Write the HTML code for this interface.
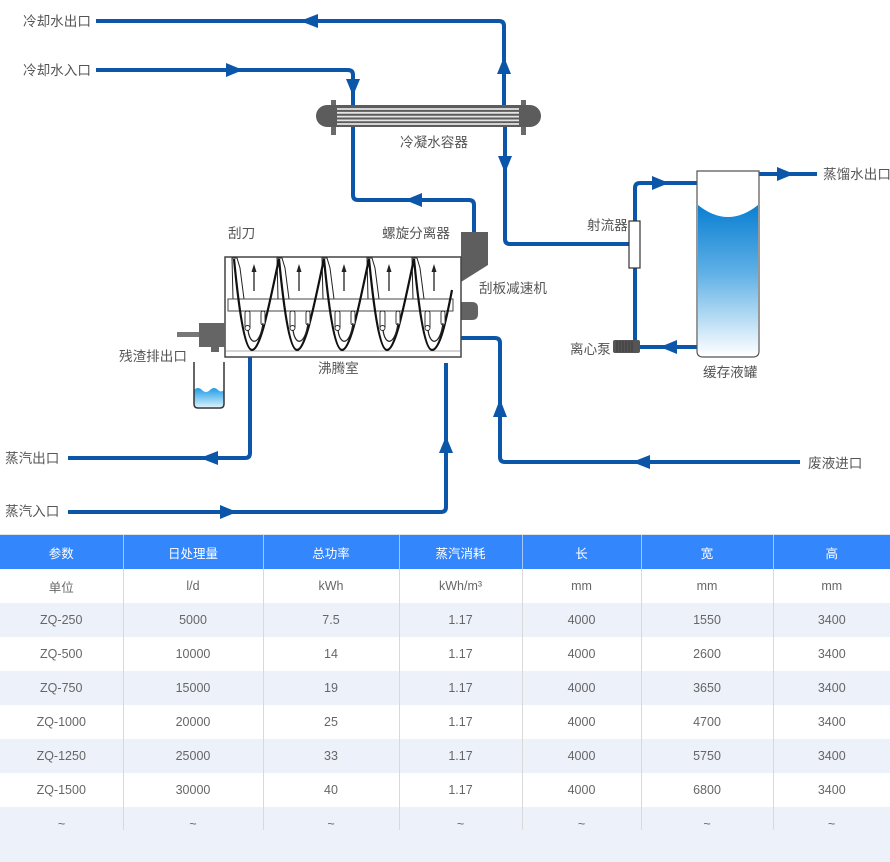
<!DOCTYPE html>
<html>
<head>
<meta charset="utf-8">
<style>
  html,body{margin:0;padding:0;background:#fff;}
  body{width:890px;height:862px;position:relative;overflow:hidden;
       font-family:"Liberation Sans","Noto Sans CJK SC",sans-serif;}
  svg{position:absolute;left:0;top:0;}
  .lbl{font-family:"Liberation Sans","Noto Sans CJK SC",sans-serif;font-size:13.6px;fill:#555;}
  table{position:absolute;left:0;top:535px;width:890px;border-collapse:collapse;table-layout:fixed;
        font-family:"Liberation Sans","Noto Sans CJK SC",sans-serif;font-size:12.5px;color:#666;}
  td,th{height:34px;padding:0;text-align:center;border-left:1px solid #d9d9d9;}
  td:first-child,th:first-child{border-left:none;}
  th{background:#3486fc;color:#fff;font-weight:normal;border-left:1px solid rgba(255,255,255,0.55);}
  tr.s td{background:#edf1f9;}
  .topline{position:absolute;left:0;top:534px;width:890px;height:1px;background:#e2e2e2;}
  .last{position:absolute;left:0;top:807px;width:890px;height:55px;background:#edf1f9;}
  .last div{position:absolute;top:0;height:23px;width:1px;background:#d9d9d9;}
  .last span{position:absolute;top:10px;font-size:12.5px;color:#666;text-align:center;}
</style>
</head>
<body>
<svg width="890" height="535" viewBox="0 0 890 535" xmlns="http://www.w3.org/2000/svg">
  <defs>
    <linearGradient id="tankg" x1="0" y1="0" x2="0" y2="1">
      <stop offset="0" stop-color="#0a7fd2"/>
      <stop offset="0.45" stop-color="#5fb0e6"/>
      <stop offset="1" stop-color="#ffffff"/>
    </linearGradient>
    <linearGradient id="beakg" x1="0" y1="0" x2="0" y2="1">
      <stop offset="0" stop-color="#1e9de6"/>
      <stop offset="1" stop-color="#d6effc"/>
    </linearGradient>
  </defs>

  <!-- pipes -->
  <g fill="none" stroke="#0b56a8" stroke-width="4" stroke-linejoin="round" stroke-linecap="butt">
    <path d="M96 21 H499 Q504 21 504 26 V107"/>
    <path d="M96 70 H348 Q353 70 353 75 V107"/>
    <path d="M353 127 V195 Q353 200 358 200 H469 Q474 200 474 205 V232"/>
    <path d="M505 127 V239 Q505 244 510 244 H629"/>
    <path d="M635 221 V188 Q635 183 640 183 H697"/>
    <path d="M635 268 V341"/>
    <path d="M640 347 H697"/>
    <path d="M759 174 H817"/>
    <path d="M461 338 H495 Q500 338 500 343 V457 Q500 462 505 462 H800"/>
    <path d="M250 357 V453 Q250 458 245 458 H68"/>
    <path d="M68 512 H441 Q446 512 446 507 V363"/>
  </g>
  <!-- arrowheads -->
  <g fill="#0b56a8">
    <polygon points="300,21 318,14 318,28"/>
    <polygon points="504,57 497,74 511,74"/>
    <polygon points="243,70 226,63 226,77"/>
    <polygon points="353,96 346,79 360,79"/>
    <polygon points="405,200 422,193 422,207"/>
    <polygon points="505,173 498,156 512,156"/>
    <polygon points="669,183 652,176 652,190"/>
    <polygon points="660,347 677,340 677,354"/>
    <polygon points="794,174 777,167 777,181"/>
    <polygon points="500,399 493,417 507,417"/>
    <polygon points="632,462 650,455 650,469"/>
    <polygon points="200,458 218,451 218,465"/>
    <polygon points="237,512 220,505 220,519"/>
    <polygon points="446,436 439,453 453,453"/>
  </g>

  <!-- heat exchanger -->
  <rect x="331" y="100" width="5" height="35" fill="#6a6a6a"/>
  <rect x="521" y="100" width="5" height="35" fill="#6a6a6a"/>
  <rect x="316" y="105" width="225" height="22" rx="11" ry="11" fill="#5c5c5c"/>
  <g stroke="#e4e4e4" stroke-width="1.8">
    <line x1="337" y1="109" x2="519" y2="109"/>
    <line x1="337" y1="112.8" x2="519" y2="112.8"/>
    <line x1="337" y1="116.6" x2="519" y2="116.6"/>
    <line x1="337" y1="120.4" x2="519" y2="120.4"/>
    <line x1="337" y1="124" x2="519" y2="124"/>
  </g>

  <!-- separator & motor -->
  <polygon points="461,232 488,232 488,265 461,282" fill="#5e5e5e"/>
  <path d="M461 302 H472 Q478 302 478 308 V314 Q478 320 472 320 H461 Z" fill="#636363"/>

  <!-- evaporator -->
  <rect x="225" y="257" width="236" height="100" fill="#fff" stroke="#444" stroke-width="1.5"/>
  <line x1="226" y1="351" x2="460" y2="351" stroke="#aaa" stroke-width="1"/>

  <!-- blades -->
  <g fill="#fff" stroke="#222" stroke-width="1">
    <polygon points="232,258 237,258 240,268 244,299 233,299"/>
    <polygon points="277,258 282,258 285,268 289,299 278,299"/>
    <polygon points="322,258 327,258 330,268 334,299 323,299"/>
    <polygon points="367,258 372,258 375,268 379,299 368,299"/>
    <polygon points="412,258 417,258 420,268 424,299 413,299"/>
  </g>
  <!-- shaft -->
  <rect x="228" y="299" width="225" height="12" fill="#fff" stroke="#444" stroke-width="1"/>
  <!-- wave -->
  <path d="M234 259 C238 300 244 350 252 350 C261 350 270 300 279 259
           C283 300 289 350 297 350 C306 350 315 300 324 259
           C328 300 334 350 342 350 C351 350 360 300 369 259
           C373 300 379 350 387 350 C396 350 405 300 414 259
           C418 300 424 350 432 350 C441 350 448 310 452 290"
        fill="none" stroke="#111" stroke-width="2.2"/>
  <!-- rods & inner loops -->
  <g fill="#fff" stroke="#222" stroke-width="0.9">
    <rect x="245" y="311" width="5" height="18" rx="2"/>
    <rect x="261" y="311" width="4" height="14" rx="2"/>
    <rect x="290" y="311" width="5" height="18" rx="2"/>
    <rect x="306" y="311" width="4" height="14" rx="2"/>
    <rect x="335" y="311" width="5" height="18" rx="2"/>
    <rect x="351" y="311" width="4" height="14" rx="2"/>
    <rect x="380" y="311" width="5" height="18" rx="2"/>
    <rect x="396" y="311" width="4" height="14" rx="2"/>
    <rect x="425" y="311" width="5" height="18" rx="2"/>
    <rect x="441" y="311" width="4" height="14" rx="2"/>
    <circle cx="247.5" cy="328" r="2.5"/>
    <circle cx="292.5" cy="328" r="2.5"/>
    <circle cx="337.5" cy="328" r="2.5"/>
    <circle cx="382.5" cy="328" r="2.5"/>
    <circle cx="427.5" cy="328" r="2.5"/>
  </g>
  <g fill="none" stroke="#222" stroke-width="1.2">
    <path d="M248 330 C250 346 260 346 263 323"/>
    <path d="M293 330 C295 346 305 346 308 323"/>
    <path d="M338 330 C340 346 350 346 353 323"/>
    <path d="M383 330 C385 346 395 346 398 323"/>
    <path d="M428 330 C430 346 440 346 443 323"/>
  </g>
  <!-- up arrows -->
  <g stroke="#222" stroke-width="1.3">
    <line x1="254" y1="291" x2="254" y2="270"/>
    <line x1="299" y1="291" x2="299" y2="270"/>
    <line x1="344" y1="291" x2="344" y2="270"/>
    <line x1="389" y1="291" x2="389" y2="270"/>
    <line x1="434" y1="291" x2="434" y2="270"/>
  </g>
  <g fill="#222">
    <polygon points="254,264 251.5,272 256.5,272"/>
    <polygon points="299,264 296.5,272 301.5,272"/>
    <polygon points="344,264 341.5,272 346.5,272"/>
    <polygon points="389,264 386.5,272 391.5,272"/>
    <polygon points="434,264 431.5,272 436.5,272"/>
  </g>

  <!-- residue outlet -->
  <rect x="177" y="332" width="24" height="5" fill="#777"/>
  <rect x="199" y="323" width="26" height="24" fill="#656565"/>
  <rect x="211" y="346" width="8" height="6" fill="#656565"/>
  <!-- beaker -->
  <path d="M194 390 Q198 386 202 390 Q206 394 210 390 Q214 386 218 390 Q221 393 224 390 V404 Q224 407 221 407 H197 Q194 407 194 404 Z" fill="url(#beakg)"/>
  <path d="M194 362 V404 Q194 408 198 408 H220 Q224 408 224 404 V362" fill="none" stroke="#333" stroke-width="1.5"/>

  <!-- ejector -->
  <rect x="629" y="221" width="11" height="47" fill="#fff" stroke="#333" stroke-width="1.2"/>
  <!-- pump -->
  <rect x="613" y="340" width="27" height="13" rx="2" fill="#555"/>
  <g stroke="#3a3a3a" stroke-width="1">
    <line x1="617" y1="341" x2="617" y2="352"/>
    <line x1="620" y1="341" x2="620" y2="352"/>
    <line x1="623" y1="341" x2="623" y2="352"/>
    <line x1="626" y1="341" x2="626" y2="352"/>
    <line x1="629" y1="341" x2="629" y2="352"/>
    <line x1="632" y1="341" x2="632" y2="352"/>
  </g>
  <!-- tank -->
  <path d="M698 205 Q728 229 758 205 V350 Q758 356 752 356 H704 Q698 356 698 350 Z" fill="url(#tankg)"/>
  <path d="M697 171 H759 V351 Q759 357 753 357 H703 Q697 357 697 351 Z" fill="none" stroke="#555" stroke-width="1.2"/>

  <!-- labels -->
  <g class="lbl">
    <text x="23" y="26">冷却水出口</text>
    <text x="23" y="75">冷却水入口</text>
    <text x="400" y="147">冷凝水容器</text>
    <text x="228" y="238">刮刀</text>
    <text x="382" y="238">螺旋分离器</text>
    <text x="479" y="293">刮板减速机</text>
    <text x="119" y="361">残渣排出口</text>
    <text x="318" y="373">沸腾室</text>
    <text x="5" y="463">蒸汽出口</text>
    <text x="5" y="516">蒸汽入口</text>
    <text x="808" y="468">废液进口</text>
    <text x="587" y="230">射流器</text>
    <text x="570" y="354">离心泵</text>
    <text x="703" y="377">缓存液罐</text>
    <text x="823" y="179">蒸馏水出口</text>
  </g>
</svg>

<div class="topline"></div>
<table>
  <colgroup>
    <col style="width:123px"><col style="width:140px"><col style="width:136px"><col style="width:123px">
    <col style="width:119px"><col style="width:132px"><col style="width:117px">
  </colgroup>
  <tr><th>参数</th><th>日处理量</th><th>总功率</th><th>蒸汽消耗</th><th>长</th><th>宽</th><th>高</th></tr>
  <tr><td>单位</td><td>l/d</td><td>kWh</td><td>kWh/m³</td><td>mm</td><td>mm</td><td>mm</td></tr>
  <tr class="s"><td>ZQ-250</td><td>5000</td><td>7.5</td><td>1.17</td><td>4000</td><td>1550</td><td>3400</td></tr>
  <tr><td>ZQ-500</td><td>10000</td><td>14</td><td>1.17</td><td>4000</td><td>2600</td><td>3400</td></tr>
  <tr class="s"><td>ZQ-750</td><td>15000</td><td>19</td><td>1.17</td><td>4000</td><td>3650</td><td>3400</td></tr>
  <tr><td>ZQ-1000</td><td>20000</td><td>25</td><td>1.17</td><td>4000</td><td>4700</td><td>3400</td></tr>
  <tr class="s"><td>ZQ-1250</td><td>25000</td><td>33</td><td>1.17</td><td>4000</td><td>5750</td><td>3400</td></tr>
  <tr><td>ZQ-1500</td><td>30000</td><td>40</td><td>1.17</td><td>4000</td><td>6800</td><td>3400</td></tr>
</table>
<div class="last">
  <div style="left:123px"></div><div style="left:263px"></div><div style="left:399px"></div>
  <div style="left:522px"></div><div style="left:641px"></div><div style="left:773px"></div>
  <span style="left:0;width:123px">~</span>
  <span style="left:123px;width:140px">~</span>
  <span style="left:263px;width:136px">~</span>
  <span style="left:399px;width:123px">~</span>
  <span style="left:522px;width:119px">~</span>
  <span style="left:641px;width:132px">~</span>
  <span style="left:773px;width:117px">~</span>
</div>
</body>
</html>
